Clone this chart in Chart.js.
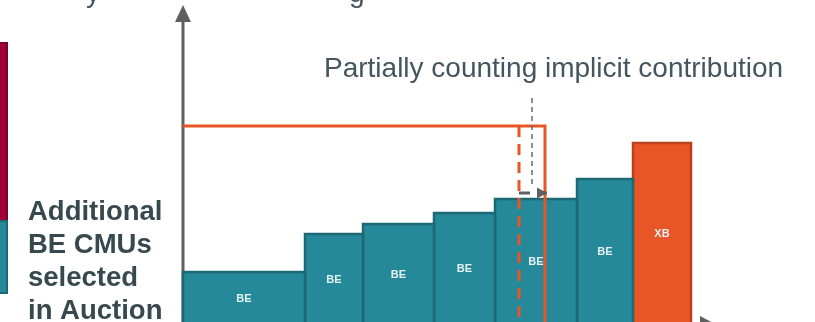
<!DOCTYPE html>
<html>
<head>
<meta charset="utf-8">
<script src="https://cdn.jsdelivr.net/npm/chart.js@4.4.1/dist/chart.umd.min.js"></script>
<style>
  html, body { margin: 0; padding: 0; background: #fff; overflow: hidden; }
  #wrap { position: relative; width: 815px; height: 340px; }
</style>
</head>
<body>
<div id="wrap"><canvas id="myChart"></canvas></div>
<script>
// data block
const categories = ['BE', 'BE', 'BE', 'BE', 'BE', 'BE', 'XB'];
const capacity = [6.1, 2.9, 3.55, 3.05, 4.1, 2.8, 2.9];   // bar widths
const price = [10.6, 18.2, 20.2, 22.4, 25.2, 29.2, 36.4]; // bar heights
const clearingPrice = 39.8;
const fullCapacity = 18.1;     // solid orange line
const partialCapacity = 16.8;  // dashed orange line
const calloutX = 17.45;
const calloutY = [45.4, 27.4];
const shiftY = 26.4;

// cut-off stacked bar of the neighbouring panel (left edge)
const sideX = [-10, -8.8];
const sideBottom = [6.4, 20.8];
const sideTop = [20.8, 56.4];
const sideColors = ['#26899a', '#a00038'];
const sideBorders = ['#1e6873', '#78002a'];

const TEAL = '#26899a';
const TEAL_DARK = '#1e6873';
const ORANGE = '#e85526';
const ORANGE_DARK = '#b9421d';
const AXIS = '#5f5f5f';

const rect = (x0, x1, y0, y1) => [
    {x: x0, y: y0}, {x: x0, y: y1}, {x: x1, y: y1}, {x: x1, y: y0}, {x: x0, y: y0}
];

const datasets = [];

// supply bars
let start = 0;
categories.forEach((cat, i) => {
    const end = start + capacity[i];
    const xb = cat === 'XB';
    datasets.push({
        label: cat,
        data: rect(start, end, 0, price[i]),
        backgroundColor: xb ? ORANGE : TEAL,
        borderColor: xb ? ORANGE_DARK : TEAL_DARK,
        borderWidth: 2.5,
        fill: 'shape',
        order: 5
    });
    start = end;
});

// neighbouring panel fragment
sideBottom.forEach((b, i) => {
    datasets.push({
        label: 'side' + i,
        data: rect(sideX[0], sideX[1], b, sideTop[i]),
        backgroundColor: sideColors[i],
        borderColor: sideBorders[i],
        borderWidth: 2,
        fill: 'shape',
        order: 5
    });
});

// demand / clearing lines
datasets.push({
    label: 'clearing',
    data: [{x: 0, y: clearingPrice}, {x: fullCapacity, y: clearingPrice}, {x: fullCapacity, y: 0}],
    borderColor: ORANGE,
    borderWidth: 3,
    fill: false,
    order: 2
});
datasets.push({
    label: 'partial',
    data: [{x: partialCapacity, y: clearingPrice}, {x: partialCapacity, y: 0}],
    borderColor: ORANGE,
    borderWidth: 3,
    borderDash: [11, 7],
    fill: false,
    order: 2
});
datasets.push({
    label: 'callout',
    data: [{x: calloutX, y: calloutY[0]}, {x: calloutX, y: calloutY[1]}],
    borderColor: '#6a6a6a',
    borderWidth: 1.5,
    borderDash: [5, 4],
    fill: false,
    order: 1
});
datasets.push({
    label: 'shift',
    data: [{x: partialCapacity, y: shiftY}, {x: fullCapacity + 0.1, y: shiftY}],
    borderColor: AXIS,
    borderWidth: 3,
    borderDash: [11, 8],
    fill: false,
    order: 1
});

// axes with arrowheads + texts
const sketchDecor = {
    id: 'sketchDecor',
    beforeDatasetsDraw(chart) {
        const {ctx, scales: {x, y}} = chart;
        const x0 = x.getPixelForValue(0);
        const y0 = y.getPixelForValue(0);
        const yTip = y.getPixelForValue(64);
        const xTip = x.getPixelForValue(26.7);
        ctx.save();
        ctx.strokeStyle = AXIS;
        ctx.fillStyle = AXIS;
        ctx.lineWidth = 3;
        ctx.beginPath();
        ctx.moveTo(x0, y0);
        ctx.lineTo(x0, yTip + 16);
        ctx.moveTo(x0, y0);
        ctx.lineTo(xTip - 16, y0);
        ctx.stroke();
        ctx.beginPath();
        ctx.moveTo(x0, yTip);
        ctx.lineTo(x0 - 8, yTip + 17);
        ctx.lineTo(x0 + 8, yTip + 17);
        ctx.closePath();
        ctx.fill();
        ctx.beginPath();
        ctx.moveTo(xTip, y0);
        ctx.lineTo(xTip - 17, y0 - 9);
        ctx.lineTo(xTip - 17, y0 + 9);
        ctx.closePath();
        ctx.fill();
        ctx.restore();
    },
    afterDatasetsDraw(chart) {
        const {ctx, scales: {x, y}} = chart;
        ctx.save();
        // arrowhead of the shift connector
        const ax = x.getPixelForValue(fullCapacity) + 2;
        const ay = y.getPixelForValue(shiftY);
        ctx.fillStyle = AXIS;
        ctx.beginPath();
        ctx.moveTo(ax, ay);
        ctx.lineTo(ax - 10, ay - 5.5);
        ctx.lineTo(ax - 10, ay + 5.5);
        ctx.closePath();
        ctx.fill();

        // bar labels
        ctx.font = 'bold 11px "Liberation Sans", Arial, sans-serif';
        ctx.fillStyle = '#e4f1f2';
        ctx.textAlign = 'center';
        ctx.textBaseline = 'middle';
        let s = 0;
        categories.forEach((cat, i) => {
            const e = s + capacity[i];
            const cx = (x.getPixelForValue(s) + x.getPixelForValue(e)) / 2;
            const cy = (y.getPixelForValue(0) + y.getPixelForValue(price[i])) / 2;
            ctx.fillText(cat, cx, cy);
            s = e;
        });

        // annotation
        ctx.textAlign = 'left';
        ctx.textBaseline = 'alphabetic';
        ctx.font = '28px "Liberation Sans", Arial, sans-serif';
        ctx.fillStyle = '#44555e';
        ctx.fillText('Partially counting implicit contribution', 324, 77);

        // side label
        ctx.font = 'bold 27.5px "Liberation Sans", Arial, sans-serif';
        ctx.fillStyle = '#38484f';
        ['Additional', 'BE CMUs', 'selected', 'in Auction'].forEach((t, i) => {
            ctx.fillText(t, 28, 220 + i * 33);
        });

        // descenders of the cut-off title above
        ctx.font = '28px "Liberation Sans", Arial, sans-serif';
        ctx.fillStyle = '#44555e';
        ctx.fillText('y', 86, 2);
        ctx.fillText('g', 349, 2);
        ctx.restore();
    }
};

// config block
const config = {
    type: 'scatter',
    data: { datasets: datasets },
    options: {
        responsive: true,
        maintainAspectRatio: false,
        animation: false,
        showLine: true,
        layout: { padding: 0 },
        elements: {
            point: { radius: 0, hoverRadius: 0 },
            line: { tension: 0, borderJoinStyle: 'miter', borderCapStyle: 'butt' }
        },
        scales: {
            x: { type: 'linear', min: -9.15, max: 31.6, display: false },
            y: { type: 'linear', min: -3, max: 65, display: false }
        },
        plugins: {
            legend: { display: false },
            tooltip: { enabled: false },
            title: { display: false }
        }
    },
    plugins: [sketchDecor]
};

// init render block
const myChart = new Chart(
    document.getElementById('myChart'),
    config
);
</script>
</body>
</html>
